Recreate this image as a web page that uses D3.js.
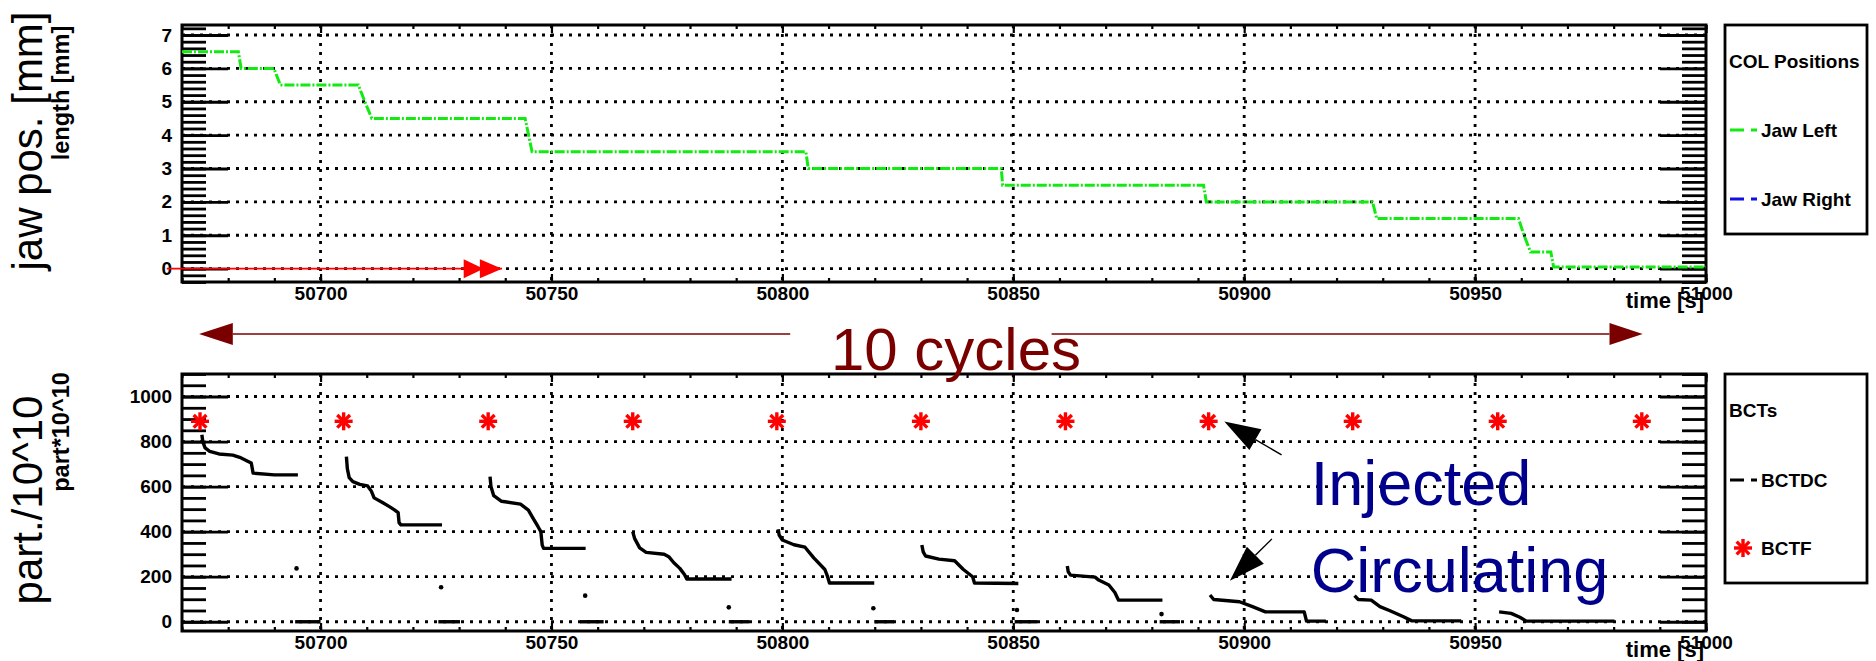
<!DOCTYPE html>
<html>
<head>
<meta charset="utf-8">
<script src="https://cdn.jsdelivr.net/npm/d3@7"></script>
<style>
  body { margin: 0; background: #fff; }
  svg { font-family: "Liberation Sans", Arial, Helvetica, sans-serif; }
</style>
</head>
<body>
<svg id="chart" width="1876" height="661"></svg>
<script>
// shared time axis
const timeDomain = [50670, 51000];
const timeTicks = [50700, 50750, 50800, 50850, 50900, 50950, 51000];

// top pad: collimator jaw position [mm]
const jawTicks = [0, 1, 2, 3, 4, 5, 6, 7];
const jawLeft = [
  [50670, 6.5], [50682.2, 6.5], [50682.8, 6.0], [50689.9, 6.0], [50691.3, 5.5],
  [50708.2, 5.5], [50709.6, 5.0], [50711.1, 4.5], [50744.3, 4.5], [50745.8, 3.5],
  [50805.1, 3.5], [50805.6, 3.0], [50847.4, 3.0], [50847.7, 2.5], [50891.2, 2.5],
  [50891.8, 2.0], [50927.8, 2.0], [50928.7, 1.5], [50959.4, 1.5], [50960.6, 1.0],
  [50962.0, 0.5], [50966.4, 0.5], [50967.0, 0.05], [51000, 0.05]
];

// bottom pad: beam intensity [part*10^10]
const bctTicks = [0, 200, 400, 600, 800, 1000];
const bctfTimes = [50673.9, 50705.0, 50736.3, 50767.6, 50798.8, 50830.0, 50861.3, 50892.3, 50923.5, 50954.9, 50986.1];
const bctfValues = [890, 890, 890, 890, 890, 890, 890, 890, 890, 890, 890];

const bctdcCycles = [
  [[50674.3, 830], [50674.5, 800], [50675.0, 772], [50676.0, 757], [50678.0, 745], [50681.0, 740],
   [50682.5, 730], [50684.0, 715], [50685.0, 705], [50685.4, 660], [50690.0, 652], [50695.1, 652]],
  [[50705.6, 733], [50705.8, 680], [50706.2, 640], [50707.0, 622], [50708.5, 610], [50710.2, 603],
   [50711.0, 580], [50711.6, 550], [50713.5, 528], [50715.0, 510], [50716.0, 497], [50716.8, 485],
   [50717.0, 440], [50717.4, 430], [50726.3, 430]],
  [[50736.7, 644], [50736.9, 600], [50737.5, 560], [50739.2, 535], [50743.3, 522], [50745.0, 496],
   [50746.0, 460], [50747.1, 422], [50747.7, 400], [50748.0, 340], [50748.3, 326], [50757.4, 326]],
  [[50767.6, 400], [50768.0, 370], [50769.1, 328], [50770.5, 308], [50774.4, 300], [50775.4, 289],
   [50776.5, 262], [50777.8, 237], [50778.8, 210], [50779.3, 190], [50789.0, 190]],
  [[50799.1, 411], [50799.3, 385], [50800.0, 363], [50802.5, 342], [50804.9, 331], [50806.8, 284],
   [50809.2, 232], [50809.8, 200], [50810.2, 172], [50819.9, 172]],
  [[50830.2, 341], [50830.5, 310], [50831.0, 292], [50833.9, 278], [50837.3, 271], [50839.2, 232],
   [50841.2, 200], [50841.6, 172], [50851.1, 170]],
  [[50861.7, 248], [50861.9, 222], [50862.4, 207], [50867.7, 198], [50868.5, 185], [50870.7, 163],
   [50872.0, 130], [50872.8, 96], [50882.3, 96]],
  [[50892.6, 119], [50893.4, 99], [50899.0, 89], [50901.8, 67], [50904.6, 44], [50913.0, 44],
   [50913.5, 3], [50917.7, 3]],
  [[50923.9, 116], [50924.7, 99], [50927.5, 96], [50929.4, 67], [50931.7, 48], [50934.5, 22],
   [50936.3, 4], [50947.0, 4]],
  [[50955.2, 44], [50957.8, 37], [50959.7, 20], [50961.1, 3], [50980.2, 3]]
];
// single readings taken while the beam is dumped, then the empty machine
const dumpPoints = [[50694.8, 237], [50726.1, 153], [50757.3, 116], [50788.4, 64], [50819.7, 60], [50850.8, 52], [50882.1, 34]];
const zeroRuns = [[50694.5, 50700], [50725.5, 50730.2], [50756.2, 50761.3], [50788.4, 50792.8],
                  [50819.9, 50824.2], [50850.3, 50855.2], [50881.7, 50886.1]];

const svg = d3.select("#chart");
const X0 = 182, X1 = 1706;
const x = d3.scaleLinear().domain(timeDomain).range([X0, X1]);
const font = "'Liberation Sans', Arial, Helvetica, sans-serif";

function styleAxis(g, width) {
  g.attr("font-family", font);
  g.select(".domain").remove();
  g.selectAll(".tick line").attr("stroke-width", width);
}

function drawPad(opt) {
  const y = d3.scaleLinear().domain(opt.domain).range([opt.bottom, opt.top]);
  const g = svg.append("g");

  // dotted grid
  g.append("g").selectAll("line").data(opt.ticks).join("line")
    .attr("x1", X0).attr("x2", X1)
    .attr("y1", d => y(d)).attr("y2", d => y(d))
    .attr("stroke", "#000").attr("stroke-width", 2.8).attr("stroke-dasharray", "3,6");
  g.append("g").selectAll("line").data(timeTicks.filter(t => t < timeDomain[1])).join("line")
    .attr("x1", d => x(d)).attr("x2", d => x(d))
    .attr("y1", opt.top).attr("y2", opt.bottom)
    .attr("stroke", "#000").attr("stroke-width", 2.8).attr("stroke-dasharray", "3,6");

  const minorY = d3.range(opt.domain[0], opt.domain[1], opt.minor / 10)
    .map(v => Math.round(v / opt.minor) * opt.minor)
    .filter((v, i, a) => a.indexOf(v) === i && v >= opt.domain[0] && v <= opt.domain[1]);
  const minorX = d3.range(50670, 51001, 10);

  // y ticks, inside on both sides (ROOT style)
  g.append("g").attr("transform", `translate(${X0},0)`)
    .call(d3.axisLeft(y).tickValues(minorY).tickSize(-24).tickFormat(""))
    .call(a => styleAxis(a, 2.8));
  g.append("g").attr("transform", `translate(${X0},0)`)
    .call(d3.axisLeft(y).tickValues(opt.ticks).tickSize(-46).tickPadding(10).tickFormat(d3.format("d")))
    .call(a => styleAxis(a, 2.8))
    .call(a => a.selectAll("text").attr("font-size", 19).attr("font-weight", "bold"));
  g.append("g").attr("transform", `translate(${X1},0)`)
    .call(d3.axisRight(y).tickValues(minorY).tickSize(-24).tickFormat(""))
    .call(a => styleAxis(a, 2.8));
  g.append("g").attr("transform", `translate(${X1},0)`)
    .call(d3.axisRight(y).tickValues(opt.ticks).tickSize(-46).tickFormat(""))
    .call(a => styleAxis(a, 2.8));

  // x ticks, bottom and top
  g.append("g").attr("transform", `translate(0,${opt.bottom})`)
    .call(d3.axisBottom(x).tickValues(minorX).tickSize(-4).tickFormat(""))
    .call(a => styleAxis(a, 2.2));
  g.append("g").attr("transform", `translate(0,${opt.bottom})`)
    .call(d3.axisBottom(x).tickValues(timeTicks).tickSize(-8).tickPadding(5).tickFormat(d3.format("d")))
    .call(a => styleAxis(a, 2.2))
    .call(a => a.selectAll("text").attr("font-size", 19).attr("font-weight", "bold"));
  g.append("g").attr("transform", `translate(0,${opt.top})`)
    .call(d3.axisTop(x).tickValues(minorX).tickSize(-4).tickFormat(""))
    .call(a => styleAxis(a, 2.2));
  g.append("g").attr("transform", `translate(0,${opt.top})`)
    .call(d3.axisTop(x).tickValues(timeTicks).tickSize(-8).tickFormat(""))
    .call(a => styleAxis(a, 2.2));

  g.append("rect")
    .attr("x", X0).attr("y", opt.top)
    .attr("width", X1 - X0).attr("height", opt.bottom - opt.top)
    .attr("fill", "none").attr("stroke", "#000").attr("stroke-width", 3);

  g.append("text")
    .attr("x", X1 - 2).attr("y", opt.bottom + 26)
    .attr("text-anchor", "end").attr("font-size", 22).attr("font-weight", "bold")
    .text("time [s]");

  // axis titles (big one + ROOT's own small bold one)
  g.append("text")
    .attr("transform", `translate(42,${opt.titleY}) rotate(-90)`)
    .attr("text-anchor", "middle").attr("font-size", 42)
    .text(opt.title);
  g.append("text")
    .attr("transform", `translate(69,${opt.subY}) rotate(-90)`)
    .attr("text-anchor", "middle").attr("font-size", 23.5).attr("font-weight", "bold")
    .text(opt.subtitle);

  // legend box
  const lg = g.append("g");
  lg.append("rect")
    .attr("x", 1725).attr("y", opt.top)
    .attr("width", 142).attr("height", 209)
    .attr("fill", "#fff").attr("stroke", "#000").attr("stroke-width", 2.8);
  lg.append("text")
    .attr("x", 1729).attr("y", opt.top + opt.legend.headY)
    .attr("font-size", 19).attr("font-weight", "bold")
    .text(opt.legend.head);

  return {g, y, lg};
}

// ---- top pad
const topPad = drawPad({
  top: 25, bottom: 282, domain: [-0.4, 7.3], ticks: jawTicks, minor: 0.2,
  title: "jaw pos. [mm]", titleY: 141, subtitle: "length [mm]", subY: 93,
  legend: {head: "COL Positions", headY: 43}
});

const jawLine = d3.line().x(d => x(d[0])).y(d => topPad.y(d[1]));
topPad.g.append("path")
  .datum(jawLeft)
  .attr("d", jawLine)
  .attr("fill", "none").attr("stroke", "#12ea12").attr("stroke-width", 3)
  .attr("stroke-dasharray", "10,2,2,2");

// red injection marker along y = 0
const redArrow = {from: 50666.7, to: 50739.3, heads: [[50731.0, 50735.3], [50734.5, 50739.3]]};
topPad.g.append("line")
  .attr("x1", x(redArrow.from)).attr("x2", x(redArrow.to))
  .attr("y1", topPad.y(0)).attr("y2", topPad.y(0))
  .attr("stroke", "#ff0000").attr("stroke-width", 1.6);
topPad.g.selectAll(".rhead").data(redArrow.heads).join("path")
  .attr("d", d => {
    const y0 = topPad.y(0);
    return `M${x(d[0])},${y0 - 9.5}L${x(d[1])},${y0}L${x(d[0])},${y0 + 9.5}Z`;
  })
  .attr("fill", "#ff0000");

const jawLegend = [["Jaw Left", "#12ea12", 105], ["Jaw Right", "#1010e0", 174]];
jawLegend.forEach(([label, color, dy]) => {
  topPad.lg.append("line")
    .attr("x1", 1730).attr("x2", 1757).attr("y1", 25 + dy).attr("y2", 25 + dy)
    .attr("stroke", color).attr("stroke-width", 3).attr("stroke-dasharray", "14,7,6");
  topPad.lg.append("text")
    .attr("x", 1761).attr("y", 25 + dy + 7)
    .attr("font-size", 19).attr("font-weight", "bold")
    .text(label);
});

// ---- bottom pad
const botPad = drawPad({
  top: 374, bottom: 631, domain: [-41, 1100], ticks: bctTicks, minor: 50,
  title: "part./10^10", titleY: 500, subtitle: "part*10^10", subY: 432,
  legend: {head: "BCTs", headY: 43}
});

const bctLine = d3.line().x(d => x(d[0])).y(d => botPad.y(d[1]));
botPad.g.append("g").selectAll("path").data(bctdcCycles).join("path")
  .attr("d", bctLine)
  .attr("fill", "none").attr("stroke", "#000").attr("stroke-width", 3.4)
  .attr("stroke-linejoin", "round");
botPad.g.append("g").selectAll("line").data(zeroRuns).join("line")
  .attr("x1", d => x(d[0])).attr("x2", d => x(d[1]))
  .attr("y1", botPad.y(0)).attr("y2", botPad.y(0))
  .attr("stroke", "#000").attr("stroke-width", 3.4);
botPad.g.append("g").selectAll("circle").data(dumpPoints).join("circle")
  .attr("cx", d => x(d[0])).attr("cy", d => botPad.y(d[1])).attr("r", 2.3)
  .attr("fill", "#000");

function star(sel, r) {
  [0, 45, 90, 135].forEach(a => {
    const rad = a * Math.PI / 180;
    sel.append("line")
      .attr("x1", -r * Math.cos(rad)).attr("y1", -r * Math.sin(rad))
      .attr("x2", r * Math.cos(rad)).attr("y2", r * Math.sin(rad))
      .attr("stroke", "#ff0000").attr("stroke-width", 3.4);
  });
}

botPad.g.append("g").selectAll("g").data(bctfTimes).join("g")
  .attr("transform", (d, i) => `translate(${x(d)},${botPad.y(bctfValues[i])})`)
  .each(function () { star(d3.select(this), 9); });

botPad.lg.append("line")
  .attr("x1", 1730).attr("x2", 1757).attr("y1", 480).attr("y2", 480)
  .attr("stroke", "#000").attr("stroke-width", 3).attr("stroke-dasharray", "14,7,6");
botPad.lg.append("text").attr("x", 1761).attr("y", 487)
  .attr("font-size", 19).attr("font-weight", "bold").text("BCTDC");
botPad.lg.append("g").attr("transform", "translate(1743,548)").call(s => star(s, 9));
botPad.lg.append("text").attr("x", 1761).attr("y", 555)
  .attr("font-size", 19).attr("font-weight", "bold").text("BCTF");

// ---- annotations
const cycleArrow = {y: 334, tip0: 50673.7, base0: 50681.0, end0: 50801.7, start1: 50858.3, base1: 50979.1, tip1: 50986.3};
const red = "#7a0000";
svg.append("line")
  .attr("x1", x(cycleArrow.base0)).attr("x2", x(cycleArrow.end0))
  .attr("y1", cycleArrow.y).attr("y2", cycleArrow.y)
  .attr("stroke", red).attr("stroke-width", 1.6);
svg.append("line")
  .attr("x1", x(cycleArrow.start1)).attr("x2", x(cycleArrow.base1))
  .attr("y1", cycleArrow.y).attr("y2", cycleArrow.y)
  .attr("stroke", red).attr("stroke-width", 1.6);
svg.append("path")
  .attr("d", `M${x(cycleArrow.tip0)},${cycleArrow.y}L${x(cycleArrow.base0)},${cycleArrow.y - 11}L${x(cycleArrow.base0)},${cycleArrow.y + 11}Z`)
  .attr("fill", red);
svg.append("path")
  .attr("d", `M${x(cycleArrow.tip1)},${cycleArrow.y}L${x(cycleArrow.base1)},${cycleArrow.y - 11}L${x(cycleArrow.base1)},${cycleArrow.y + 11}Z`)
  .attr("fill", red);
svg.append("text")
  .attr("x", 956).attr("y", 370)
  .attr("text-anchor", "middle").attr("font-size", 60).attr("fill", red)
  .text("10 cycles");

// Injected / Circulating labels with arrows (coordinates in data units)
const navy = "#00008c";
const notes = [
  {text: "Injected", t: 50914.4, v: 519, from: [50908.1, 741], to: [50895.7, 889]},
  {text: "Circulating", t: 50914.4, v: 132, from: [50906.0, 368], to: [50896.9, 182]}
];
notes.forEach(n => {
  botPad.g.append("text")
    .attr("x", x(n.t)).attr("y", botPad.y(n.v))
    .attr("font-size", 63).attr("fill", navy)
    .text(n.text);
  const x1 = x(n.from[0]), y1 = botPad.y(n.from[1]);
  const x2 = x(n.to[0]), y2 = botPad.y(n.to[1]);
  const ang = Math.atan2(y2 - y1, x2 - x1);
  const len = 36, half = 12;
  const bx = x2 - len * Math.cos(ang), by = y2 - len * Math.sin(ang);
  botPad.g.append("line")
    .attr("x1", x1).attr("y1", y1).attr("x2", bx).attr("y2", by)
    .attr("stroke", "#000").attr("stroke-width", 1.4);
  botPad.g.append("path")
    .attr("d", `M${x2},${y2}L${bx - half * Math.sin(ang)},${by + half * Math.cos(ang)}L${bx + half * Math.sin(ang)},${by - half * Math.cos(ang)}Z`)
    .attr("fill", "#000");
});
</script>
</body>
</html>
